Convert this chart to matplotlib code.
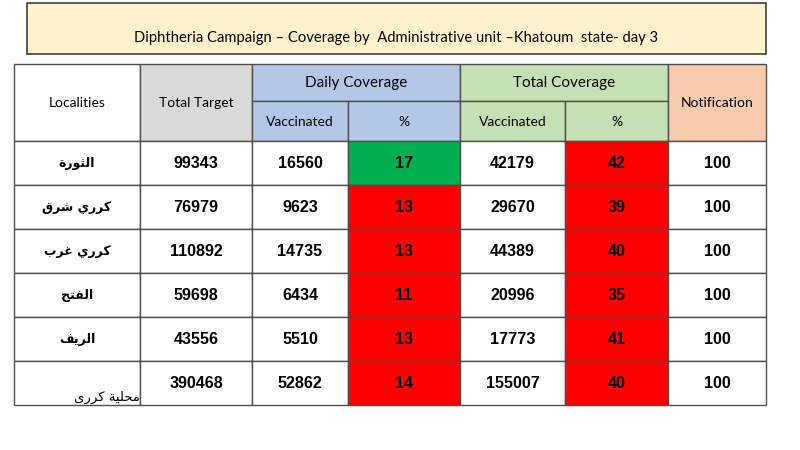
import matplotlib.pyplot as plt
from matplotlib.patches import Rectangle

# data
localities = ['الثورة', 'كرري شرق', 'كرري غرب', 'الفتح', 'الريف']
total_label = 'محلية كررى'
total_target = [99343, 76979, 110892, 59698, 43556, 390468]
daily_vacc = [16560, 9623, 14735, 6434, 5510, 52862]
daily_pct = [17, 13, 13, 11, 13, 14]
total_vacc = [42179, 29670, 44389, 20996, 17773, 155007]
total_pct = [42, 39, 40, 35, 41, 40]
notification = [100, 100, 100, 100, 100, 100]

title = 'Diphtheria Campaign – Coverage by  Administrative unit –Khatoum  state- day 3'

# arabic shaping by hand (no reshaper installed): base codepoint of presentation forms, number of forms
FORMS = {'ا': (0xFE8D, 2), 'ب': (0xFE8F, 4), 'ة': (0xFE93, 2), 'ت': (0xFE95, 4),
         'ث': (0xFE99, 4), 'ح': (0xFEA1, 4), 'ر': (0xFEAD, 2), 'ش': (0xFEB5, 4),
         'غ': (0xFECD, 4), 'ف': (0xFED1, 4), 'ق': (0xFED5, 4), 'ك': (0xFED9, 4),
         'ل': (0xFEDD, 4), 'م': (0xFEE1, 4), 'و': (0xFEED, 2), 'ى': (0xFEEF, 2),
         'ي': (0xFEF1, 4)}


def shape(word):
    out = []
    for i, ch in enumerate(word):
        if ch not in FORMS:
            out.append(ch)
            continue
        base, n = FORMS[ch]
        prev = word[i - 1] if i > 0 else None
        nxt = word[i + 1] if i + 1 < len(word) else None
        jp = prev in FORMS and FORMS[prev][1] == 4
        jn = n == 4 and nxt in FORMS
        k = 3 if (jp and jn) else 1 if jp else 2 if jn else 0
        out.append(chr(base + k))
    return ''.join(reversed(out))


fig = plt.figure(figsize=(8, 4.5), dpi=100)
ax = fig.add_axes([0, 0, 1, 1])
ax.set_xlim(0, 800)
ax.set_ylim(450, 0)
ax.axis('off')

hdr_font = 'Lato'
num_font = 'Liberation Sans'
edge = '#4d4d4d'

# title box
ax.add_patch(Rectangle((27, 3), 739, 51, facecolor='#fff2cc', edgecolor='#404040', lw=1.2))
ax.text(396, 38, title, ha='center', va='center', fontsize=10.6, family=hdr_font)

cols = [14, 140, 252, 348, 460, 565, 668, 766]
top, mid, hbot = 64, 101, 141
row_h = 44


def cell(x0, x1, y0, y1, color='white'):
    ax.add_patch(Rectangle((x0, y0), x1 - x0, y1 - y0, facecolor=color, edgecolor=edge, lw=1))


# header
cell(cols[0], cols[1], top, hbot)
cell(cols[1], cols[2], top, hbot, '#d9d9d9')
cell(cols[2], cols[4], top, mid, '#b4c7e7')
cell(cols[2], cols[3], mid, hbot, '#b4c7e7')
cell(cols[3], cols[4], mid, hbot, '#b4c7e7')
cell(cols[4], cols[6], top, mid, '#c5e0b4')
cell(cols[4], cols[5], mid, hbot, '#c5e0b4')
cell(cols[5], cols[6], mid, hbot, '#c5e0b4')
cell(cols[6], cols[7], top, hbot, '#f8cbad')

hk = dict(ha='center', va='center', family=hdr_font)
ax.text((cols[0] + cols[1]) / 2, 103, 'Localities', fontsize=10, **hk)
ax.text((cols[1] + cols[2]) / 2, 103, 'Total Target', fontsize=10, **hk)
ax.text((cols[2] + cols[4]) / 2, 83, 'Daily Coverage', fontsize=11, **hk)
ax.text((cols[4] + cols[6]) / 2, 83, 'Total Coverage', fontsize=11, **hk)
ax.text((cols[2] + cols[3]) / 2, 122, 'Vaccinated', fontsize=10, **hk)
ax.text((cols[3] + cols[4]) / 2, 122, '%', fontsize=10, **hk)
ax.text((cols[4] + cols[5]) / 2, 122, 'Vaccinated', fontsize=10, **hk)
ax.text((cols[5] + cols[6]) / 2, 122, '%', fontsize=10, **hk)
ax.text((cols[6] + cols[7]) / 2, 103, 'Notification', fontsize=10, **hk)

# body
nk = dict(ha='center', va='center', family=num_font, fontweight='bold', fontsize=11.6)
for i in range(len(total_target)):
    y0 = hbot + i * row_h
    y1 = y0 + row_h
    yc = (y0 + y1) / 2 + 1
    dcol = '#00b050' if daily_pct[i] >= 15 else '#ff0000'
    tcol = '#00b050' if total_pct[i] >= 50 else '#ff0000'
    colors = ['white', 'white', 'white', dcol, 'white', tcol, 'white']
    for j in range(7):
        cell(cols[j], cols[j + 1], y0, y1, colors[j])
    vals = [total_target[i], daily_vacc[i], daily_pct[i], total_vacc[i], total_pct[i], notification[i]]
    for j, v in enumerate(vals):
        ax.text((cols[j + 1] + cols[j + 2]) / 2, yc, str(v), **nk)
    if i < len(localities):
        ax.text((cols[0] + cols[1]) / 2, yc, shape(localities[i]), ha='center', va='center',
                family='DejaVu Sans', fontweight='bold', fontsize=9)
    else:
        ax.text(cols[1], 401, shape(total_label), ha='right', va='baseline',
                family='DejaVu Sans', fontsize=9.5)

fig.savefig('out.png', dpi=100)
